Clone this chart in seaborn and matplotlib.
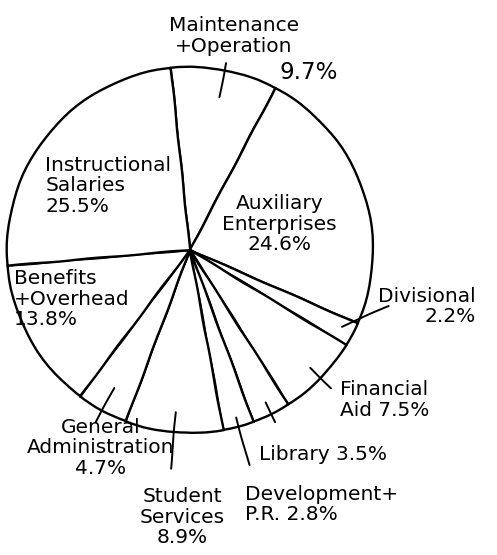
import numpy as np
import matplotlib
matplotlib.use("Agg")
import matplotlib.pyplot as plt
import seaborn as sns

# Budget shares (percent), clockwise from the top
categories = ["Maintenance\n+Operation", "Auxiliary\nEnterprises", "Divisional",
              "Financial\nAid", "Library", "Development+\nP.R.", "Student\nServices",
              "General\nAdministration", "Benefits\n+Overhead", "Instructional\nSalaries"]
shares = [9.7, 24.6, 2.2, 7.5, 3.5, 2.8, 8.9, 4.7, 13.8, 25.5]
pct_labels = ["9.7%", "24.6%", "2.2%", "7.5%", "3.5%", "2.8%", "8.9%", "4.7%", "13.8%", "25.5%"]

sns.set_theme(style="white")
plt.rcParams['font.family'] = ['DejaVu Sans']
plt.rcParams['text.color'] = 'black'
plt.rcParams['path.sketch'] = (0.3, 80, 2)

fig = plt.figure(figsize=(4.97, 5.55), dpi=100)
ax = fig.add_axes([0, 0, 1, 1])

wedges, _ = ax.pie(shares, startangle=96, counterclock=False, radius=1.0,
                   colors=["white"] * len(shares),
                   wedgeprops=dict(edgecolor="black", linewidth=1.7))
# pie resets the limits, so set them afterwards
ax.set_xlim(-1.038, 1.678)
ax.set_ylim(-1.667, 1.366)
ax.set_aspect("equal")
ax.axis("off")

fs = 14.5

def mid(w):
    return np.deg2rad((w.theta1 + w.theta2) / 2)

# label layout: (x, y, ha, multialign, joiner between name and percent)
layout = {
    1: (0.49, 0.14, "center", "center", "\n"),
    2: (1.03, -0.31, "left", "right", "\n"),
    3: (0.82, -0.82, "left", "left", " "),
    4: (0.38, -1.12, "left", "left", " "),
    5: (0.30, -1.39, "left", "left", " "),
    6: (-0.04, -1.46, "center", "center", "\n"),
    7: (-0.49, -1.08, "center", "center", "\n"),
    8: (-0.96, -0.27, "left", "left", "\n"),
    9: (-0.79, 0.35, "left", "left", "\n"),
}

for i, (x, y, ha, ma, sep) in layout.items():
    ax.text(x, y, categories[i] + sep + pct_labels[i], ha=ha, va="center",
            multialignment=ma, fontsize=fs, linespacing=1.1)

ax.text(0.24, 1.17, categories[0], ha="center", va="center", fontsize=fs, linespacing=1.1)
ax.text(0.65, 0.97, pct_labels[0], ha="center", va="center", fontsize=fs + 2)

# leader ticks along each slice's mid-angle: (r_in, r_out)
ticks = {0: (0.85, 1.04), 3: (0.92, 1.08), 4: (0.93, 1.05), 5: (0.95, 1.22),
         6: (0.89, 1.2), 7: (0.86, 1.07)}
for i, (r0, r1) in ticks.items():
    a = mid(wedges[i])
    ax.plot([r0 * np.cos(a), r1 * np.cos(a)], [r0 * np.sin(a), r1 * np.sin(a)],
            color="black", lw=1.4)

a = mid(wedges[2])
ax.annotate("", xy=(0.92 * np.cos(a), 0.92 * np.sin(a)), xytext=(1.1, -0.3),
            arrowprops=dict(arrowstyle="-", color="black", lw=1.4))

fig.savefig("out.png", dpi=100, facecolor="white")
